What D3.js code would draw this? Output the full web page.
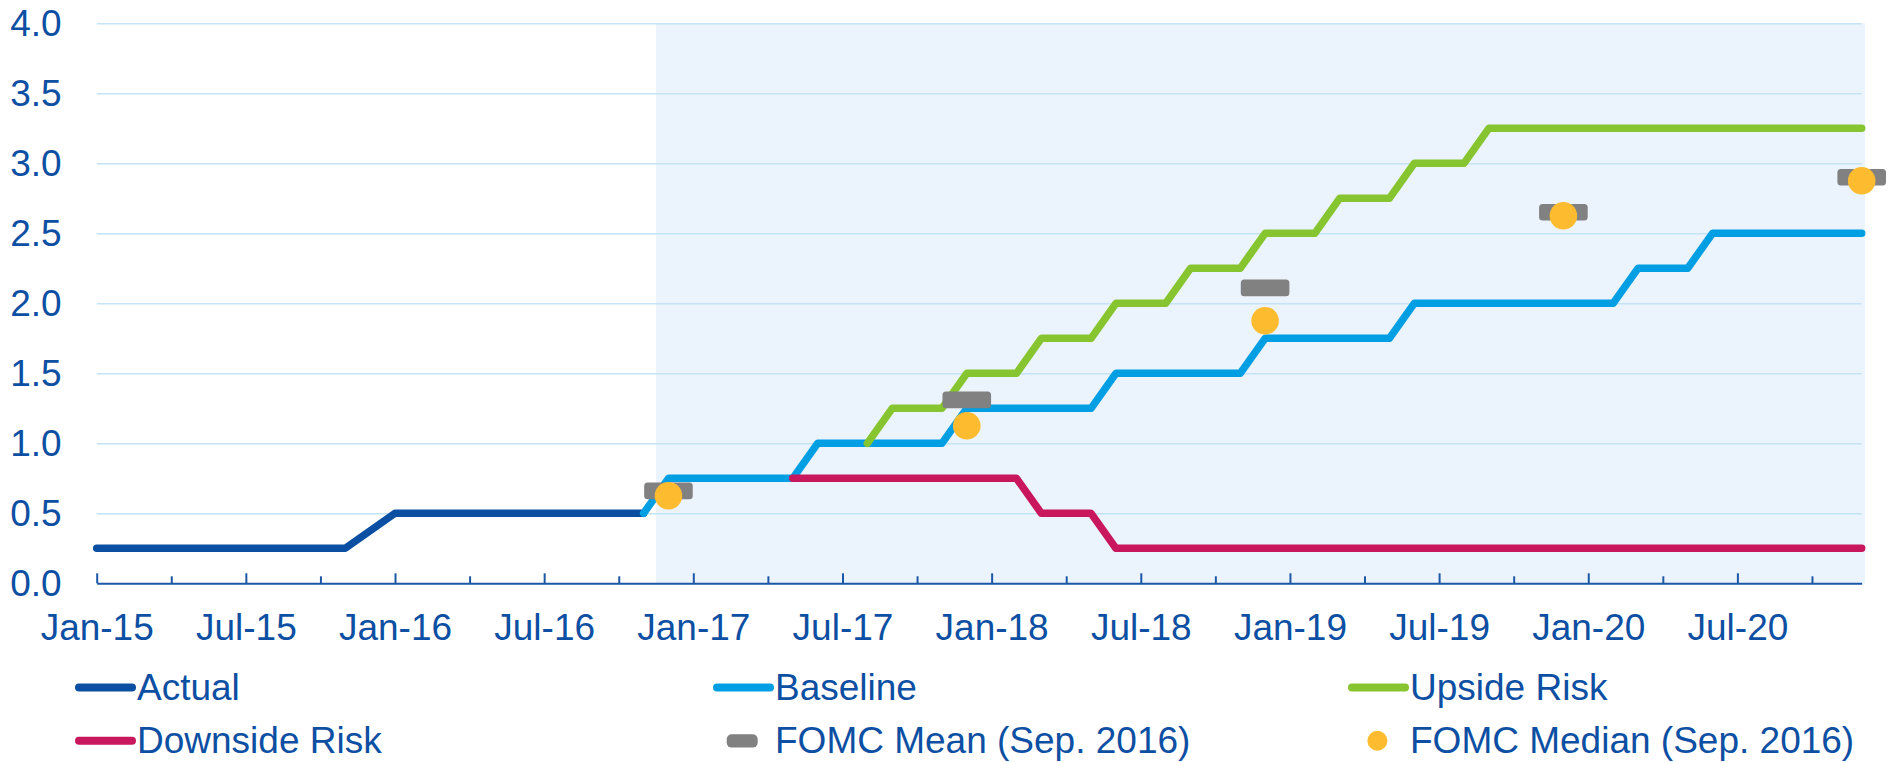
<!DOCTYPE html>
<html>
<head>
<meta charset="utf-8">
<script src="https://cdn.jsdelivr.net/npm/d3@7"></script>
<style>
  html, body { margin: 0; padding: 0; background: #fff; }
  svg { display: block; }
  text { font-family: "Liberation Sans", Arial, sans-serif; fill: #0d4fa2; }
</style>
</head>
<body>
<svg id="chart" width="1903" height="762"></svg>
<script>
// data (monthly knots; lines join them straight)
var actualDates = ['2015-01', '2015-11', '2016-01', '2016-11'];
var actualValues = [0.25, 0.25, 0.5, 0.5];

var baselineDates = ['2016-11', '2016-12', '2017-05', '2017-06', '2017-11', '2017-12',
  '2018-05', '2018-06', '2018-11', '2018-12', '2019-05', '2019-06', '2020-02', '2020-03',
  '2020-05', '2020-06', '2020-12'];
var baselineValues = [0.5, 0.75, 0.75, 1.0, 1.0, 1.25, 1.25, 1.5, 1.5, 1.75, 1.75, 2.0,
  2.0, 2.25, 2.25, 2.5, 2.5];

var upsideDates = ['2017-08', '2017-09', '2017-11', '2017-12', '2018-02', '2018-03',
  '2018-05', '2018-06', '2018-08', '2018-09', '2018-11', '2018-12', '2019-02', '2019-03',
  '2019-05', '2019-06', '2019-08', '2019-09', '2020-12'];
var upsideValues = [1.0, 1.25, 1.25, 1.5, 1.5, 1.75, 1.75, 2.0, 2.0, 2.25, 2.25, 2.5,
  2.5, 2.75, 2.75, 3.0, 3.0, 3.25, 3.25];

var downsideDates = ['2017-05', '2018-02', '2018-03', '2018-05', '2018-06', '2020-12'];
var downsideValues = [0.75, 0.75, 0.5, 0.5, 0.25, 0.25];

var fomcDates = ['2016-12', '2017-12', '2018-12', '2019-12', '2020-12'];
var fomcMean = [0.66, 1.31, 2.11, 2.65, 2.9];
var fomcMedian = [0.625, 1.125, 1.875, 2.625, 2.875];

var axisStart = '2015-01';
var axisEnd = '2020-12';
var forecastStart = '2016-11-16';
var yTicks = [0, 0.5, 1, 1.5, 2, 2.5, 3, 3.5, 4];

var legendItems = [
  {name: 'Actual', type: 'line', color: '#0b4fa3'},
  {name: 'Baseline', type: 'line', color: '#009fe3'},
  {name: 'Upside Risk', type: 'line', color: '#86c52f'},
  {name: 'Downside Risk', type: 'line', color: '#c8175d'},
  {name: 'FOMC Mean (Sep. 2016)', type: 'rect', color: '#818181'},
  {name: 'FOMC Median (Sep. 2016)', type: 'dot', color: '#fdbc30'}
];

var parse = d3.timeParse('%Y-%m');
var parseDay = d3.timeParse('%Y-%m-%d');
var t0 = parse(axisStart);
var t1 = parse(axisEnd);

// months since Jan-15, fractional for day dates
function monthIndex(d) {
  var m = d3.timeMonth.floor(d);
  var next = d3.timeMonth.offset(m, 1);
  return d3.timeMonth.count(t0, m) + (d - m) / (next - m);
}

var plotLeft = 96.7, plotRight = 1861.7, plotTop = 23.3, plotBottom = 583.3;

var x = d3.scaleLinear().domain([0, monthIndex(t1)]).range([plotLeft, plotRight]);
var y = d3.scaleLinear().domain([0, 4]).range([plotBottom, plotTop]);

var svg = d3.select('#chart');

// forecast shading
var shadeX = x(monthIndex(parseDay(forecastStart)));
svg.append('rect')
  .attr('x', shadeX)
  .attr('y', plotTop)
  .attr('width', plotRight + 3.3 - shadeX)
  .attr('height', plotBottom - plotTop)
  .attr('fill', '#ebf3fc');

// y gridlines + labels
var yAxis = svg.append('g')
  .attr('transform', 'translate(' + plotLeft + ',0)')
  .call(d3.axisLeft(y).tickValues(yTicks)
    .tickSizeInner(-(plotRight - plotLeft)).tickSizeOuter(0).tickPadding(35)
    .tickFormat(d3.format('.1f')));
yAxis.select('.domain').remove();
yAxis.selectAll('.tick line')
  .attr('stroke', '#c4e3f6')
  .attr('stroke-width', 1.6)
  .filter(function(d) { return d === 0; }).remove();
yAxis.selectAll('.tick text')
  .style('font-size', '37px')
  .attr('fill', '#0d4fa2');

// x axis, quarterly ticks, labels every six months
var quarters = d3.timeMonth.every(3).range(t0, d3.timeMonth.offset(t1, 1));
var xAxis = svg.append('g')
  .attr('transform', 'translate(0,' + plotBottom + ')')
  .call(d3.axisBottom(x)
    .tickValues(quarters.map(monthIndex))
    .tickSizeInner(-10).tickSizeOuter(0).tickPadding(30)
    .tickFormat(function(d) {
      var dt = d3.timeMonth.offset(t0, d);
      return dt.getMonth() % 6 === 0 ? d3.timeFormat('%b-%y')(dt) : '';
    }));
xAxis.select('.domain').attr('stroke', '#1d58a6').attr('stroke-width', 2);
xAxis.selectAll('.tick line')
  .attr('stroke', '#1d58a6').attr('stroke-width', 2)
  .attr('y2', function(d) { return d % 6 === 0 ? -10 : -7; });
xAxis.selectAll('.tick text')
  .style('font-size', '37px')
  .attr('fill', '#0d4fa2');

// series
var line = d3.line()
  .x(function(d) { return x(monthIndex(parse(d[0]))); })
  .y(function(d) { return y(d[1]); });

var series = [
  [actualDates, actualValues, legendItems[0].color],
  [baselineDates, baselineValues, legendItems[1].color],
  [upsideDates, upsideValues, legendItems[2].color],
  [downsideDates, downsideValues, legendItems[3].color]
];

var lines = svg.append('g').attr('class', 'lines');
series.forEach(function(s) {
  lines.append('path')
    .datum(d3.zip(s[0], s[1]))
    .attr('d', line)
    .attr('fill', 'none')
    .attr('stroke', s[2])
    .attr('stroke-width', 7.5)
    .attr('stroke-linejoin', 'round')
    .attr('stroke-linecap', 'round');
});

// FOMC markers
var markers = svg.append('g').attr('class', 'fomc');
markers.selectAll('rect')
  .data(d3.zip(fomcDates, fomcMean))
  .enter()
  .append('rect')
  .attr('x', function(d) { return x(monthIndex(parse(d[0]))) - 24.3; })
  .attr('y', function(d) { return y(d[1]) - 8.3; })
  .attr('width', 48.6)
  .attr('height', 16.6)
  .attr('rx', 3.5)
  .attr('fill', legendItems[4].color);
markers.selectAll('circle')
  .data(d3.zip(fomcDates, fomcMedian))
  .enter()
  .append('circle')
  .attr('cx', function(d) { return x(monthIndex(parse(d[0]))); })
  .attr('cy', function(d) { return y(d[1]); })
  .attr('r', 13.8)
  .attr('fill', legendItems[5].color);

// legend, three columns by two rows
var colX = [137, 775, 1410];
var rowY = [700, 753.3];
var legend = svg.append('g').attr('class', 'legend');
legendItems.forEach(function(item, i) {
  var tx = colX[i % 3];
  var ty = rowY[Math.floor(i / 3)];
  var cy = ty - 12.5;
  var g = legend.append('g');
  if (item.type === 'line') {
    g.append('line')
      .attr('x1', tx - 58).attr('x2', tx - 5)
      .attr('y1', cy).attr('y2', cy)
      .attr('stroke', item.color)
      .attr('stroke-width', 8)
      .attr('stroke-linecap', 'round');
  } else if (item.type === 'rect') {
    g.append('rect')
      .attr('x', tx - 48.3).attr('y', cy - 6.5)
      .attr('width', 31).attr('height', 13.3)
      .attr('rx', 5)
      .attr('fill', item.color);
  } else {
    g.append('circle')
      .attr('cx', tx - 32.6).attr('cy', cy)
      .attr('r', 10)
      .attr('fill', item.color);
  }
  g.append('text')
    .attr('x', tx)
    .attr('y', ty)
    .style('font-size', '37px')
    .text(item.name);
});
</script>
</body>
</html>
